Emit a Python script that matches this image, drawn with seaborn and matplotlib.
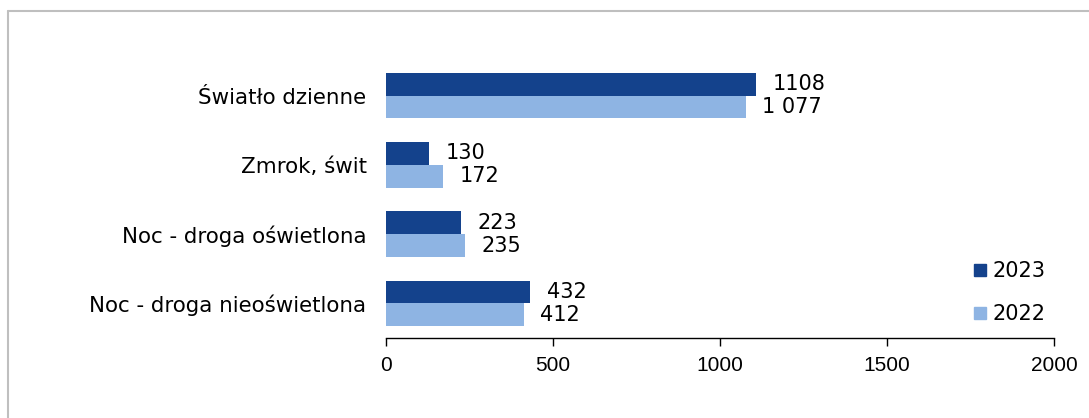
import pandas as pd
import numpy as np
import seaborn as sns
import matplotlib.pyplot as plt
from matplotlib.lines import Line2D

# dane
kategorie = ['Światło dzienne', 'Zmrok, świt', 'Noc - droga oświetlona', 'Noc - droga nieoświetlona']
lata = ['2023', '2022']
wart_2023 = [1108, 130, 223, 432]
wart_2022 = [1077, 172, 235, 412]
etyk_2023 = ['1108', '130', '223', '432']
etyk_2022 = ['1 077', '172', '235', '412']
kolory = ['#14428C', '#8EB4E3']

df = pd.DataFrame({
    'kategoria': kategorie * 2,
    'rok': [lata[0]] * 4 + [lata[1]] * 4,
    'wartosc': wart_2023 + wart_2022,
})

sns.set_style('white')
plt.rcParams['font.family'] = ['DejaVu Sans']

fig = plt.figure(figsize=(10.89, 4.18), dpi=100)
ax = fig.add_axes([0.3545, 0.1914, 0.6134, 0.6626])

sns.barplot(data=df, y='kategoria', x='wartosc', hue='rok', order=kategorie,
            hue_order=lata, palette=kolory, orient='h', width=0.66,
            saturation=1, linewidth=0, ax=ax, legend=False)

# etykiety wartosci
for cont, etyk in zip(ax.containers, [etyk_2023, etyk_2022]):
    ax.bar_label(cont, labels=etyk, padding=12, fontsize=15, color='black')

ax.set_xlim(0, 2000)
ax.set_xticks([0, 500, 1000, 1500, 2000])
ax.set_xlabel('')
ax.set_ylabel('')
ax.tick_params(axis='y', length=0, labelsize=15.4, pad=14, labelcolor='black')
ax.tick_params(axis='x', length=6, width=1, labelsize=15, direction='out',
               bottom=True, color='black', pad=7, labelcolor='black')
for lab in ax.get_xticklabels():
    lab.set_fontfamily(['Liberation Sans', 'DejaVu Sans'])
for s in ['top', 'right', 'left']:
    ax.spines[s].set_visible(False)
ax.spines['bottom'].set_color('black')
ax.spines['bottom'].set_linewidth(1)

# legenda
uchwyty = [Line2D([0], [0], marker='s', linestyle='', markersize=9,
                  markerfacecolor=k, markeredgecolor=k) for k in kolory]
ax.legend(uchwyty, lata, loc='lower right', bbox_to_anchor=(1.0, 0.02),
          frameon=False, fontsize=15, handletextpad=0.2, labelspacing=1.1,
          borderaxespad=0, handlelength=0.8, labelcolor='black')

# ramka wykresu
fig.add_artist(Line2D([0.0078, 1.0], [0.974, 0.974], color='#BFBFBF', lw=1.5,
                      transform=fig.transFigure))
fig.add_artist(Line2D([0.0078, 0.0078], [0.0, 0.974], color='#BFBFBF', lw=1.5,
                      transform=fig.transFigure))

fig.savefig('out.png', dpi=100)
